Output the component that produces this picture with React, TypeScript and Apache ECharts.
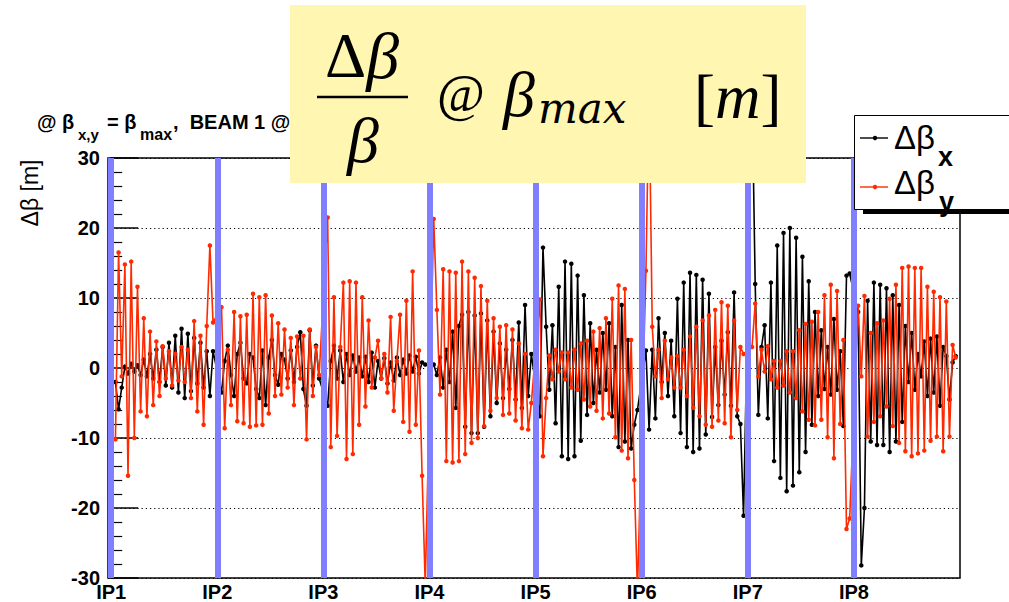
import React, { useEffect, useRef } from "react";
import * as echarts from "echarts";

// IP positions (in octant units) and their labels
const ipPositions = [0, 1, 2, 3, 4, 5, 6, 7];
const ipLabels = ["IP1", "IP2", "IP3", "IP4", "IP5", "IP6", "IP7", "IP8"];

// Δβx per octant [m] (in order along the ring)
const dbxOct1 = [-2.0, -5.9, -2.8, 0.2, -0.8, 0.6, -0.5, 0.4, -1.0, 1.2, -1.2, 2.0, -1.5, 2.6, -2.0, 3.0, -2.5, 3.6, -2.8, 4.6, -3.5, 5.6, -4.3, 4.9, -3.3, 4.3, -2.2, 3.6, -2.8, 2.4, -4.0, 2.4];
const dbxOct2 = [-3.5, 1.0, 3.2, -1.0, -4.0, 2.0, 3.6, -1.5, -2.2, 2.0, 1.5, -3.0, -4.3, 2.5, -5.3, 1.5, 4.0, -1.0, -2.4, 2.0, 1.2, -1.5, 2.5, -2.0, 3.0, 5.1, -3.0, -5.4, 5.4, -2.5, 3.2, -1.5];
const dbxOct3 = [-5.4, 1.0, 3.2, -1.5, 2.5, -2.0, 2.0, -1.0, 1.8, -0.5, 1.5, -1.2, 1.6, -2.0, 2.2, -2.8, 1.0, -1.5, 1.4, -2.2, 0.8, -1.8, 1.5, -1.0, 1.2, -0.8, 1.8, -0.5, 1.6, -0.8, 0.8, 0.5];
const dbxOct4 = [0.5, -1.0, 1.5, -2.8, 2.6, -2.0, 5.2, -5.7, 6.0, 7.6, -8.4, 8.0, -9.3, 7.5, -9.3, 7.8, -8.4, 6.8, -6.9, 5.2, -5.0, 3.5, -4.3, 2.6, -3.0, 4.0, -4.5, 6.5, -5.7, 9.0, -4.0, 2.0];
const dbxOct5 = [-6.9, 17.2, 5.9, -3.1, 6.1, -7.9, 11.6, -12.6, 15.2, -13.0, 14.9, -12.6, 13.2, -10.4, 10.4, -6.7, 6.4, -5.0, 2.6, -3.5, 5.0, -3.1, 6.4, -6.9, 3.0, -11.3, 9.0, -10.5, 4.0, -11.5, -8.1, -6.0];
const dbxOct6 = [2.5, -8.8, 2.6, -7.2, 7.1, -2.0, 5.0, -4.0, 3.9, -6.9, 9.9, -9.3, 12.2, -11.3, 13.6, -12.0, 13.3, -11.5, 12.6, -9.5, 10.6, -7.0, 3.0, -5.3, 3.9, -3.8, 5.1, -5.4, 10.8, -6.9, -8.0, -21.1];
const dbxOct7 = [40, 12.0, -6.7, 3.0, 6.1, -7.2, 12.2, -13.3, 17.5, -15.7, 19.3, -17.6, 20.0, -16.8, 18.6, -14.9, 15.9, -12.0, 12.4, -8.1, 8.0, -4.0, 5.4, -3.0, 3.0, -3.8, 7.0, -3.1, 2.4, -8.3, 13.2, 13.5];
const dbxOct8 = [8.0, -28.2, -20.0, 9.6, -10.5, 12.2, -11.0, 11.9, -11.0, 11.4, -12.0, 10.4, -10.5, 9.0, -7.7, 6.0, -2.0, 5.0, -3.1, 2.0, -1.2, 3.8, -4.0, 4.2, -3.5, 4.5, -5.4, 3.0, 1.7, -4.5, 0.8, 1.7];

// Δβy per octant [m]
const dbyOct1 = [-10.2, 16.5, -1.2, 14.8, -15.4, 15.2, -10.0, 11.6, -6.2, 7.1, -6.9, 5.2, -5.3, 3.8, -4.0, 3.1, -1.5, 2.4, -2.5, 2.0, -1.8, 3.0, -2.0, 2.6, -4.3, 6.7, -6.2, 4.6, -8.1, 6.0, 17.5, 6.5];
const dbyOct2 = [8.7, -8.6, 2.6, -5.3, 8.0, -7.6, 7.4, -7.9, 7.6, -8.4, 10.6, -8.2, 10.1, -8.1, 10.4, -6.5, 7.5, -4.0, 6.4, -3.8, 5.5, -2.8, 4.3, -5.3, 4.5, -1.5, 4.6, -10.2, 5.5, -4.0, 3.0, -1.0];
const dbyOct3 = [21.5, -11.3, 10.1, -9.7, 3.0, 12.2, -13.0, 12.4, -12.3, 12.2, -8.1, 10.1, -5.5, 6.8, -2.8, 1.5, 3.9, -1.5, 2.0, -3.5, 7.3, -6.1, 1.0, 7.6, -7.7, 9.6, -9.1, 13.8, -8.1, 2.5, -15.4, -31.0];
const dbyOct4 = [21.3, 8.3, -3.8, 14.1, -13.3, 13.8, -13.5, 13.6, -13.3, 15.2, -12.3, 13.8, -10.7, 12.9, -10.0, 11.7, -8.3, 9.6, -6.1, 7.1, -4.3, 5.9, -6.7, 6.1, -6.5, 5.5, -7.5, 3.5, -8.6, 2.0, -8.8, -5.0];
const dbyOct5 = [9.8, -12.6, -4.3, 1.8, -1.6, 2.6, -0.5, 2.2, -1.6, 2.2, -2.8, 2.6, -3.1, 3.5, -4.5, 3.9, -5.5, 5.2, -6.1, 5.7, -7.2, 7.1, -6.5, 9.9, -9.9, 11.8, -11.8, 11.3, -12.9, 4.0, -16.0, -32.0];
const dbyOct6 = [13.9, 40, 5.9, -1.2, 2.6, -4.3, 3.9, -1.6, 1.5, -2.8, 1.7, -2.8, 2.6, -4.0, 4.5, -5.7, 5.9, -6.9, 6.8, -8.1, 7.5, -8.4, 8.3, -7.5, 9.4, -7.9, 8.9, -9.9, 6.8, -6.0, 3.0, 2.0];
const dbyOct7 = [3.0, 9.2, -1.2, 2.6, -0.5, 3.1, -1.6, 1.0, -2.8, 1.0, -2.5, 2.4, -3.5, 2.4, -4.3, 5.4, -6.2, 6.3, -7.4, 6.6, -8.2, 8.0, -7.4, 10.4, -9.9, 11.9, -12.9, 11.0, -8.0, 4.0, -23.0, -21.5];
const dbyOct8 = [8.9, -1.2, 10.3, -9.8, 5.0, -7.7, 6.4, -6.9, 6.8, -5.5, 9.9, -8.3, 11.9, -10.7, 14.3, -11.9, 14.5, -12.6, 14.3, -12.2, 14.3, -11.8, 11.6, -10.4, 10.9, -9.8, 10.1, -11.9, 9.5, -9.8, 3.3, 1.5];

const dbxOctants = [dbxOct1, dbxOct2, dbxOct3, dbxOct4, dbxOct5, dbxOct6, dbxOct7, dbxOct8];
const dbyOctants = [dbyOct1, dbyOct2, dbyOct3, dbyOct4, dbyOct5, dbyOct6, dbyOct7, dbyOct8];

const SANS = '"Liberation Sans", Arial, Helvetica, sans-serif';
const SERIF = '"Liberation Serif", "DejaVu Serif", serif';
const WIDE_SERIF = '"DejaVu Serif", "Liberation Serif", serif';
const RED = "#ff2a00";
const BLUE = "#7f7fff";

function toPoints(octants: number[][]): [number, number][] {
  const pts: [number, number][] = [];
  octants.forEach((vals, k) => {
    const n = vals.length;
    vals.forEach((v, i) => {
      pts.push([ipPositions[k] + 0.04 + (i * 0.92) / (n - 1), v]);
    });
  });
  return pts;
}

export default function App() {
  const ref = useRef<HTMLDivElement>(null);

  useEffect(() => {
    if (!ref.current) return;
    const chart = echarts.init(ref.current, null, { renderer: "svg" });

    const option: any = {
      animation: false,
      backgroundColor: "#ffffff",
      grid: {
        left: 108,
        right: 49,
        top: 158,
        bottom: 22,
        show: true,
        borderColor: "#000",
        borderWidth: 1.5,
        backgroundColor: "transparent",
      },
      xAxis: {
        type: "value",
        min: -0.03,
        max: 8,
        axisLine: { show: false },
        axisTick: { show: false },
        splitLine: { show: false },
        axisLabel: {
          customValues: ipPositions,
          formatter: (v: number) => ipLabels[Math.round(v)] ?? "",
          fontFamily: SANS,
          fontWeight: "bold",
          fontSize: 20,
          color: "#000",
          margin: 4,
        },
      },
      yAxis: {
        type: "value",
        min: -30,
        max: 30,
        interval: 10,
        axisLine: { show: true, lineStyle: { color: "#000", width: 1.5 } },
        axisTick: { show: true, inside: true, length: 27, lineStyle: { color: "#000", width: 1.5 } },
        minorTick: { show: true, splitNumber: 5, length: 11, lineStyle: { color: "#000", width: 1.2 } },
        splitLine: { show: true, lineStyle: { color: "#000", width: 1, type: [1.2, 3] } },
        axisLabel: {
          fontFamily: SANS,
          fontWeight: "bold",
          fontSize: 20,
          color: "#000",
          margin: 8,
        },
      },
      series: [
        {
          name: "dbx",
          type: "line",
          data: toPoints(dbxOctants),
          symbol: "circle",
          symbolSize: 4.5,
          showAllSymbol: true,
          lineStyle: { color: "#000", width: 1.6 },
          itemStyle: { color: "#000" },
          z: 2,
          clip: true,
        },
        {
          name: "dby",
          type: "line",
          data: toPoints(dbyOctants),
          symbol: "circle",
          symbolSize: 4.5,
          showAllSymbol: true,
          lineStyle: { color: RED, width: 1.6 },
          itemStyle: { color: RED },
          z: 3,
          clip: true,
          markLine: {
            silent: true,
            symbol: "none",
            label: { show: false },
            lineStyle: { color: BLUE, width: 6, type: "solid", opacity: 1 },
            data: ipPositions.map((p) => ({ xAxis: p })),
          },
        },
      ],
      graphic: [
        // title (partly hidden by the yellow box)
        { type: "text", x: 37, y: 122, z: 1, style: { text: "@ β", fontFamily: SANS, fontWeight: "bold", fontSize: 20, fill: "#000", verticalAlign: "middle" } },
        { type: "text", x: 78, y: 134, z: 1, style: { text: "x,y", fontFamily: SANS, fontWeight: "bold", fontSize: 15, fill: "#000", verticalAlign: "middle" } },
        { type: "text", x: 107, y: 122, z: 1, style: { text: "= β", fontFamily: SANS, fontWeight: "bold", fontSize: 20, fill: "#000", verticalAlign: "middle" } },
        { type: "text", x: 140, y: 134, z: 1, style: { text: "max", fontFamily: SANS, fontWeight: "bold", fontSize: 16, fill: "#000", verticalAlign: "middle" } },
        { type: "text", x: 173, y: 122, z: 1, style: { text: ",  BEAM 1 @", fontFamily: SANS, fontWeight: "bold", fontSize: 20, fill: "#000", verticalAlign: "middle" } },
        // y axis title
        { type: "text", x: 30, y: 193, rotation: Math.PI / 2, z: 1, style: { text: "Δβ [m]", fontFamily: SANS, fontSize: 23, fill: "#000", align: "center", verticalAlign: "middle" } },
        // yellow formula box
        { type: "rect", z: 20, shape: { x: 290, y: 5, width: 516, height: 178 }, style: { fill: "#fff6b2" } },
        {
          type: "text", z: 21, x: 362, y: 55,
          style: {
            text: "{a|Δ}{b|β}",
            fill: "#000",
            align: "center",
            verticalAlign: "middle",
            rich: {
              a: { fontFamily: SERIF, fontSize: 64, fontStyle: "normal", fill: "#000" },
              b: { fontFamily: SERIF, fontSize: 66, fontStyle: "italic", fill: "#000" },
            },
          },
        },
        { type: "line", z: 21, shape: { x1: 317, y1: 97, x2: 408, y2: 97 }, style: { stroke: "#000", lineWidth: 2.5 } },
        { type: "text", z: 21, x: 363, y: 140, style: { text: "β", fontFamily: SERIF, fontStyle: "italic", fontSize: 64, fill: "#000", align: "center", verticalAlign: "middle" } },
        { type: "text", z: 21, x: 461, y: 93, style: { text: "@", fontFamily: SERIF, fontSize: 52, fill: "#000", align: "center", verticalAlign: "middle" } },
        { type: "text", z: 21, x: 503, y: 94, style: { text: "β", fontFamily: SERIF, fontStyle: "italic", fontSize: 64, fill: "#000", verticalAlign: "middle" } },
        { type: "text", z: 21, x: 538, y: 108, style: { text: "max", fontFamily: WIDE_SERIF, fontStyle: "italic", fontSize: 42, fill: "#000", verticalAlign: "middle" } },
        {
          type: "text", z: 21, x: 694, y: 97,
          style: {
            text: "{a|[}{b|m}{a|]}",
            fill: "#000",
            verticalAlign: "middle",
            rich: {
              a: { fontFamily: SERIF, fontSize: 63, fontStyle: "normal", fill: "#000" },
              b: { fontFamily: SERIF, fontSize: 63, fontStyle: "italic", fill: "#000" },
            },
          },
        },
        // legend
        { type: "rect", z: 20, shape: { x: 863, y: 117, width: 160, height: 97 }, style: { fill: "#000" } },
        { type: "rect", z: 21, shape: { x: 854.5, y: 115.5, width: 170, height: 94 }, style: { fill: "#fff", stroke: "#000", lineWidth: 1 } },
        { type: "line", z: 22, shape: { x1: 860, y1: 138, x2: 888, y2: 138 }, style: { stroke: "#000", lineWidth: 1.4 } },
        { type: "circle", z: 22, shape: { cx: 875, cy: 138, r: 2.2 }, style: { fill: "#000" } },
        { type: "line", z: 22, shape: { x1: 860, y1: 187, x2: 888, y2: 187 }, style: { stroke: RED, lineWidth: 1.4 } },
        { type: "circle", z: 22, shape: { cx: 875, cy: 187, r: 2.2 }, style: { fill: RED } },
        { type: "text", z: 22, x: 894, y: 137, style: { text: "Δβ", fontFamily: SANS, fontSize: 33, fill: "#000", verticalAlign: "middle" } },
        { type: "text", z: 22, x: 938, y: 157, style: { text: "x", fontFamily: SANS, fontWeight: "bold", fontSize: 27, fill: "#000", verticalAlign: "middle" } },
        { type: "text", z: 22, x: 894, y: 182, style: { text: "Δβ", fontFamily: SANS, fontSize: 33, fill: "#000", verticalAlign: "middle" } },
        { type: "text", z: 22, x: 939, y: 202, style: { text: "y", fontFamily: SANS, fontWeight: "bold", fontSize: 27, fill: "#000", verticalAlign: "middle" } },
      ],
    };

    chart.setOption(option);
    return () => chart.dispose();
  }, []);

  return (
    <div
      ref={ref}
      style={{ position: "fixed", left: 0, top: 0, width: 1009, height: 602, background: "#fff" }}
    />
  );
}
